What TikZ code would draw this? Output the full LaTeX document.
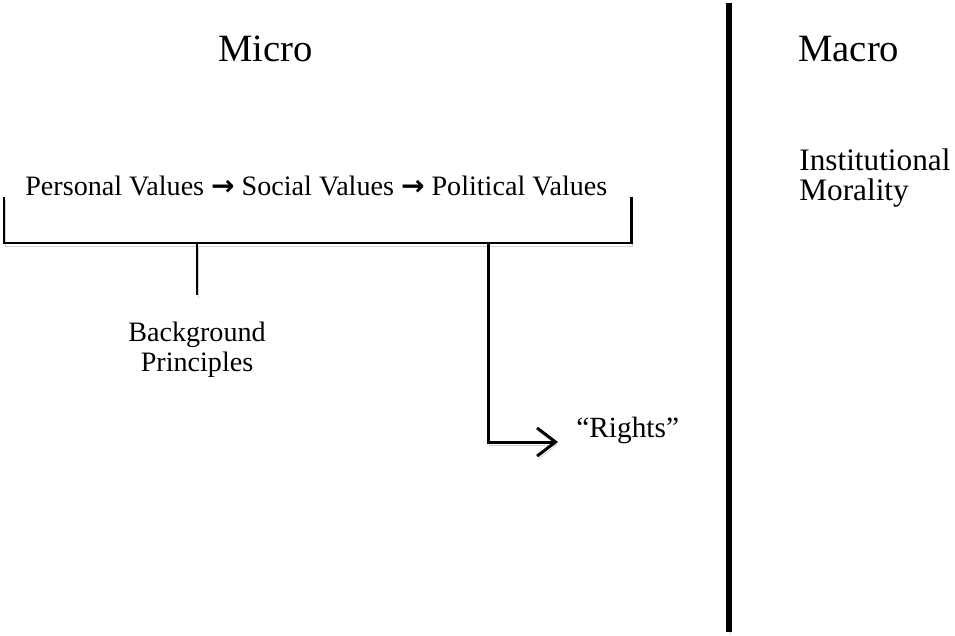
\documentclass[tikz,border=0pt]{standalone}
\usepackage{fontspec}
\setmainfont{Liberation Serif}
\newfontfamily\symfont{DejaVu Sans}
\usetikzlibrary{arrows.meta}
\newcommand{\thento}{ {\symfont\bfseries →} }
\tikzset{
  lbl/.style={anchor=base west,inner sep=0pt,font=\fontsize{16}{17}\selectfont},
  head/.style={lbl,font=\fontsize{22}{26}\selectfont},
  shade/.style={preaction={draw=black!18,transform canvas={xshift=0.6pt,yshift=-1.7pt}}},
  brk/.style={line width=1.7pt,shade},
}
\begin{document}
\begin{tikzpicture}[x=0.02cm,y=-0.02cm]
\useasboundingbox (0,0) rectangle (955,635);
%\draw[step=50,gray!30,very thin] (0,0) grid (955,635); %background grid
\node[head] (micro) at (218,62) {Micro};
\node[head] (macro) at (798,62) {Macro};
\node[lbl] (values) at (25,195) {Personal Values\thento Social Values\thento Political Values};
\node[lbl,align=left,font=\fontsize{17.8}{17}\selectfont] (inst) at (799,200) {Institutional\\Morality};
\node[lbl,anchor=north,align=center] (backgr) at (197,322) {Background\\Principles};
\node[lbl,font=\fontsize{16.7}{17}\selectfont] (rights) at (576,437) {``Rights''};
% bracket under the values
\coordinate (bl) at (4,197);
\coordinate (br) at (631,197);
\coordinate (tick) at (197,295);
\coordinate (stem) at (488,442);
\coordinate (tip) at (558,442);
\draw[brk] (bl) |- (br |- 0,243) -- (br); 
\draw[brk] (tick |- 0,243) -- (tick); %left tick
\draw[brk,-{Straight Barb[length=10.5pt,width=16pt]}] (stem |- 0,243) -- (stem) -- (tip); %to rights
% micro / macro divider
\coordinate (top) at (729,3);
\coordinate (bot) at (729,632);
\draw[line width=2.9pt,shade] (top) -- (bot);
\end{tikzpicture}
\end{document}
